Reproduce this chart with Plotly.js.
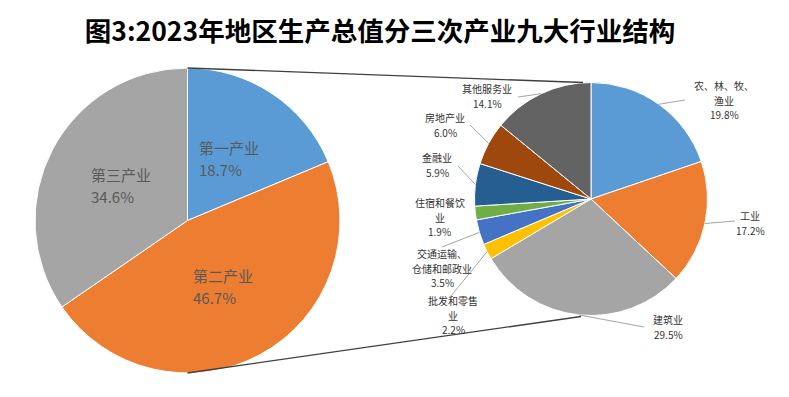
<!DOCTYPE html>
<html><head><meta charset="utf-8">
<script src="https://cdn.plot.ly/plotly-3.0.1.min.js"></script>
<style>html,body{margin:0;padding:0;background:#fff}#chart{width:789px;height:397px}</style>
</head><body><div id="chart"></div>
<script>
// ---- data ----
const chartTitle = '图3:2023年地区生产总值分三次产业九大行业结构';
const sectorNames = ['第一产业', '第二产业', '第三产业'];
const sectorValues = [18.7, 46.7, 34.6];
const industryNames = ['农、林、牧、|渔业', '工业', '建筑业', '批发和零售|业', '交通运输、|仓储和邮政业', '住宿和餐饮|业', '金融业', '房地产业', '其他服务业'];
const industryValues = [19.8, 17.2, 29.5, 2.2, 3.5, 1.9, 5.9, 6.0, 14.1];

// ---- style ----
const W = 789, H = 397;
const sectorColors = ['#5B9BD5', '#ED7D31', '#A5A5A5'];
const industryColors = ['#5B9BD5', '#ED7D31', '#A5A5A5', '#FFC000', '#4472C4', '#70AD47', '#255E91', '#9E480E', '#636363'];
const leftPie = {cx: 187.5, cy: 220.5, r: 152.5};
const rightPie = {cx: 591, cy: 199, r: 116.5};
// label block centres (px) and leader end points for the industry pie
const industryLabelPos = [[724, 100], [750, 223], [668, 327], [453, 315], [442, 268], [440, 217], [437, 165], [445, 125], [487, 96]];
const industryLeaderEnd = [[685, 100], [735, 221], [644, 327], [451, 296], [442, 247], null, [458, 166], [470, 125], [518, 97]];

const px = x => x / W, py = y => 1 - y / H;
function domainOf(p) {
  return {x: [px(p.cx - p.r), px(p.cx + p.r)], y: [py(p.cy + p.r), py(p.cy - p.r)]};
}
function midAngles(vals) {
  const tot = vals.reduce((a, b) => a + b, 0);
  let acc = 0;
  return vals.map(v => { const m = (acc + v / 2) / tot * 2 * Math.PI; acc += v; return m; });
}
function polar(p, ang, f) {
  return [p.cx + p.r * f * Math.sin(ang), p.cy - p.r * f * Math.cos(ang)];
}

const traces = [
  {type: 'pie', labels: sectorNames, values: sectorValues, sort: false, direction: 'clockwise', rotation: 0,
   marker: {colors: sectorColors, line: {color: '#fff', width: 1}}, textinfo: 'none', hoverinfo: 'none',
   domain: domainOf(leftPie), showlegend: false},
  {type: 'pie', labels: industryNames.map(s => s.replace('|', '')), values: industryValues, sort: false, direction: 'clockwise', rotation: 0,
   marker: {colors: industryColors, line: {color: '#fff', width: 1}}, textinfo: 'none', hoverinfo: 'none',
   domain: domainOf(rightPie), showlegend: false}
];

const annotations = [];
const shapes = [];
const font = '"Noto Sans CJK SC", "Noto Sans", sans-serif';

// one annotation per line, stacked around a block centre
function block(lines, cx, cy, size, color, spacing, xanchor) {
  const n = lines.length;
  lines.forEach((t, k) => {
    const y = cy + (k - (n - 1) / 2) * spacing;
    annotations.push({xref: 'paper', yref: 'paper', x: px(cx), y: py(y), xanchor: xanchor, yanchor: 'middle',
      showarrow: false, text: t, font: {family: font, size: size, color: color}});
  });
}

midAngles(sectorValues).forEach((a, i) => {
  const [x, y] = polar(leftPie, a, 0.49);
  block([sectorNames[i], sectorValues[i].toFixed(1) + '%'], x - 32, y, 15, '#595959', 22, 'left');
});

midAngles(industryValues).forEach((a, i) => {
  const [lx, ly] = industryLabelPos[i];
  block(industryNames[i].split('|').concat([industryValues[i].toFixed(1) + '%']), lx, ly, 10, '#333333', 14.5, 'center');
  const end = industryLeaderEnd[i];
  if (end) {
    const [sx, sy] = polar(rightPie, a, 1.0);
    shapes.push({type: 'line', xref: 'paper', yref: 'paper', x0: px(sx), y0: py(sy), x1: px(end[0]), y1: py(end[1]),
      line: {color: '#A6A6A6', width: 1}});
  }
});

// connector lines between the two pies
shapes.push({type: 'line', xref: 'paper', yref: 'paper', x0: px(leftPie.cx), y0: py(leftPie.cy - leftPie.r),
  x1: px(rightPie.cx - 8), y1: py(rightPie.cy - rightPie.r), line: {color: '#404040', width: 1.3}});
shapes.push({type: 'line', xref: 'paper', yref: 'paper', x0: px(leftPie.cx), y0: py(leftPie.cy + leftPie.r),
  x1: px(rightPie.cx - 10), y1: py(rightPie.cy + rightPie.r + 1), line: {color: '#404040', width: 1.3}});

const layout = {
  width: W, height: H, margin: {l: 0, r: 0, t: 0, b: 0}, paper_bgcolor: '#fff',
  title: {text: '<b>' + chartTitle + '</b>', x: 380 / W, xanchor: 'center', y: py(32), yanchor: 'middle',
    font: {family: font, size: 26.5, color: '#000'}},
  annotations, shapes, showlegend: false
};
Plotly.newPlot('chart', traces, layout, {staticPlot: true});
</script></body></html>
